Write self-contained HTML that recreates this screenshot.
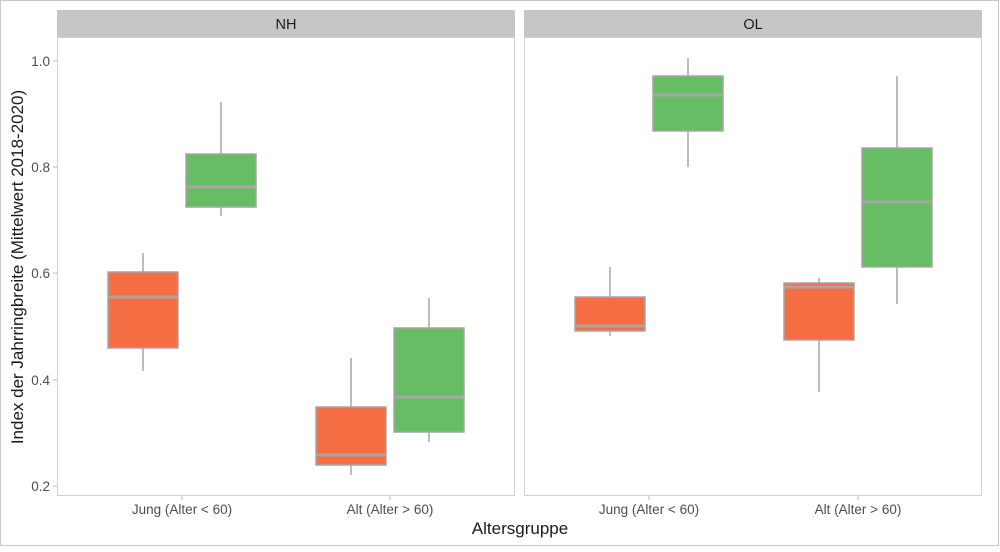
<!DOCTYPE html><html><head><style>body{margin:0;background:#fff}</style></head><body>
<svg width="1000" height="547" xmlns="http://www.w3.org/2000/svg" font-family="Liberation Sans, sans-serif">
<rect x="0.5" y="0.5" width="998" height="545" fill="#fff" stroke="#c8c8c8"/>
<g fill="#c6c6c6"><rect x="57" y="10" width="458" height="27"/><rect x="524" y="10" width="458" height="27"/></g>
<text x="286" y="29" font-size="14.5" text-anchor="middle" fill="#1a1a1a">NH</text>
<text x="753" y="29" font-size="14.5" text-anchor="middle" fill="#1a1a1a">OL</text>
<g fill="none" stroke="#d0d0d0"><rect x="57.5" y="37.5" width="457" height="458"/><rect x="524.5" y="37.5" width="457" height="458"/></g>
<g font-size="13.5" fill="#4d4d4d" text-anchor="end">
<text x="50" y="66">1.0</text><text x="50" y="172">0.8</text><text x="50" y="278">0.6</text><text x="50" y="385">0.4</text><text x="50" y="491">0.2</text></g>
<g stroke="#bbb"><line x1="53" x2="57" y1="61" y2="61"/><line x1="53" x2="57" y1="167" y2="167"/><line x1="53" x2="57" y1="273" y2="273"/><line x1="53" x2="57" y1="380" y2="380"/><line x1="53" x2="57" y1="486" y2="486"/>
<line x1="182" x2="182" y1="496" y2="500"/><line x1="390" x2="390" y1="496" y2="500"/><line x1="649" x2="649" y1="496" y2="500"/><line x1="858" x2="858" y1="496" y2="500"/></g>
<g font-size="13.5" fill="#4d4d4d" text-anchor="middle">
<text x="182" y="514">Jung (Alter &lt; 60)</text><text x="390" y="514">Alt (Alter &gt; 60)</text>
<text x="649" y="514">Jung (Alter &lt; 60)</text><text x="858" y="514">Alt (Alter &gt; 60)</text></g>
<text x="520" y="534" font-size="17" text-anchor="middle" fill="#1a1a1a">Altersgruppe</text>
<text transform="translate(23,267) rotate(-90)" font-size="17" text-anchor="middle" fill="#1a1a1a">Index der Jahrringbreite (Mittelwert 2018-2020)</text>
<g stroke="#a6a6a6" stroke-width="1.5">
<line x1="143" x2="143" y1="253" y2="371"/><rect x="108" y="272" width="70" height="76" fill="#F46D43"/><line x1="108" x2="178" y1="297" y2="297" stroke-width="3"/>
<line x1="221" x2="221" y1="102" y2="216"/><rect x="186" y="154" width="70" height="53" fill="#66BD63"/><line x1="186" x2="256" y1="187" y2="187" stroke-width="3"/>
<line x1="351" x2="351" y1="358" y2="475"/><rect x="316" y="407" width="70" height="58" fill="#F46D43"/><line x1="316" x2="386" y1="455" y2="455" stroke-width="3"/>
<line x1="429" x2="429" y1="298" y2="442"/><rect x="394" y="328" width="70" height="104" fill="#66BD63"/><line x1="394" x2="464" y1="397" y2="397" stroke-width="3"/>
<line x1="610" x2="610" y1="267" y2="336"/><rect x="575" y="297" width="70" height="34" fill="#F46D43"/><line x1="575" x2="645" y1="326" y2="326" stroke-width="3"/>
<line x1="688" x2="688" y1="58" y2="167"/><rect x="653" y="76" width="70" height="55" fill="#66BD63"/><line x1="653" x2="723" y1="95" y2="95" stroke-width="3"/>
<line x1="819" x2="819" y1="278" y2="392"/><rect x="784" y="283" width="70" height="57" fill="#F46D43"/><line x1="784" x2="854" y1="287" y2="287" stroke-width="3"/>
<line x1="897" x2="897" y1="76" y2="304"/><rect x="862" y="148" width="70" height="119" fill="#66BD63"/><line x1="862" x2="932" y1="202" y2="202" stroke-width="3"/>
</g>
</svg></body></html>
